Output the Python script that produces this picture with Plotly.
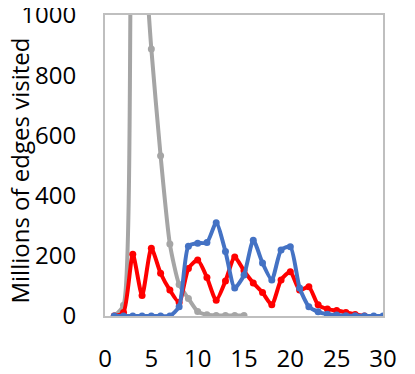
import plotly.graph_objects as go

# x positions (same for all series)
x_vals = list(range(1, 31))

# gray series (runs x=1..15), peaks go off the top of the chart
gray_x = list(range(1, 16))
gray_y = [0, 36, 1500, 1300, 887, 532, 239, 105, 58, 15, 4, 2, 2, 2, 2]

# red series (x=1..28)
red_x = list(range(1, 29))
red_y = [0, 12, 205, 68, 225, 142, 86, 45, 158, 186, 128, 52, 116, 196,
         150, 110, 78, 37, 120, 147, 86, 97, 37, 23, 18, 12, 5, 0]

# blue series (x=1..30)
blue_x = x_vals
blue_y = [0, 0, 0, 0, 0, 0, 0, 31, 232, 242, 244, 310, 214, 93, 136, 252,
          176, 120, 219, 230, 93, 31, 14, 6, 3, 1, 1, 0, 0, 0]

FONT = "Open Sans"
AXIS_COLOR = "#BFBFBF"

fig = go.Figure()

series = [
    (gray_x, gray_y, "#A5A5A5"),
    (red_x, red_y, "#FF0000"),
    (blue_x, blue_y, "#4472C4"),
]
for xs, ys, color in series:
    fig.add_trace(
        go.Scatter(
            x=xs,
            y=ys,
            mode="lines+markers",
            line=dict(color=color, width=4, shape="spline", smoothing=0.6),
            marker=dict(color=color, size=7),
            cliponaxis=True,
            showlegend=False,
        )
    )

fig.add_annotation(
    text="Millions of edges visited",
    xref="paper",
    yref="paper",
    x=-0.307,
    y=0.482,
    xanchor="center",
    yanchor="middle",
    textangle=-90,
    showarrow=False,
    font=dict(family=FONT, size=24, color="#000000"),
)

# page has an 8px body margin, so the figure is drawn a little smaller
fig.update_layout(
    width=407,
    height=366,
    margin=dict(l=97, r=32, t=7, b=58),
    paper_bgcolor="white",
    plot_bgcolor="white",
    font=dict(family=FONT, size=24, color="#000000"),
    xaxis=dict(
        range=[0, 30],
        tickvals=[0, 5, 10, 15, 20, 25, 30],
        showgrid=False,
        zeroline=False,
        showline=True,
        linecolor=AXIS_COLOR,
        linewidth=2,
        mirror=True,
        ticks="",
        ticklabelstandoff=20,
        ticklabeloverflow="allow",
        automargin=False,
    ),
    yaxis=dict(
        range=[0, 1000],
        tickvals=[0, 200, 400, 600, 800, 1000],
        showgrid=False,
        zeroline=False,
        showline=True,
        linecolor=AXIS_COLOR,
        linewidth=2,
        mirror=True,
        ticks="",
        ticklabelstandoff=22,
        ticklabeloverflow="allow",
        automargin=False,
    ),
)

fig.write_html("out.html")
